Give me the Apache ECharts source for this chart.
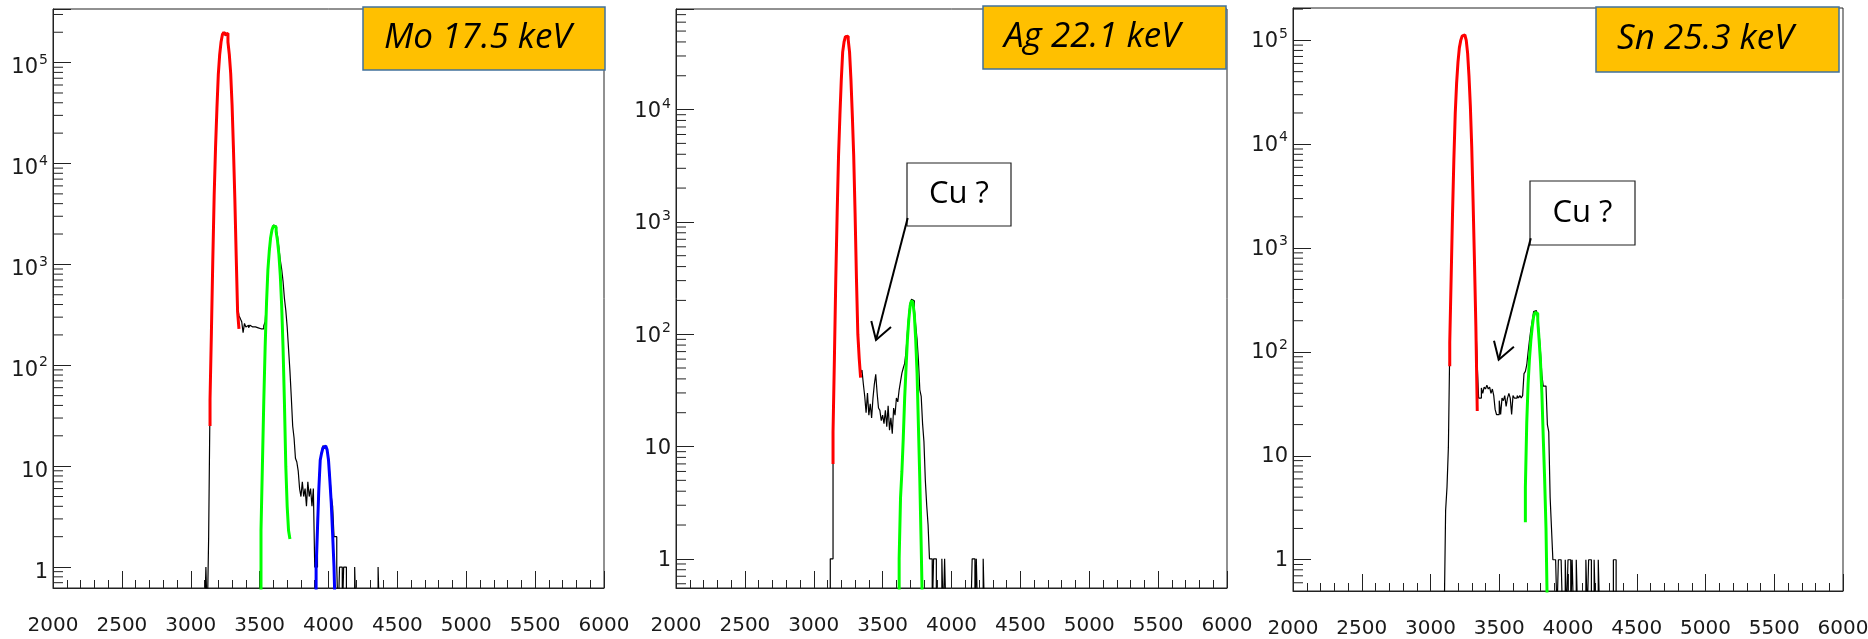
<!DOCTYPE html>
<html>
<head>
<meta charset="utf-8">
<title>Spectra</title>
<script src="https://cdn.jsdelivr.net/npm/echarts@6/dist/echarts.min.js"></script>
<style>
  html, body { margin: 0; padding: 0; background: #fff; }
  #chart { width: 1868px; height: 639px; }
</style>
</head>
<body>
<div id="chart"></div>
<script>
// channel width of every histogram
var BIN = 10;

var titles = ['Mo 17.5 keV', 'Ag 22.1 keV', 'Sn 25.3 keV'];
var noteText = 'Cu ?';
var xTicks = [2000, 2500, 3000, 3500, 4000, 4500, 5000, 5500, 6000];

// ---- Mo 17.5 keV ----
var moRawStart = 3100;
var moRaw = [
  0, 1, 0, 2, 45, 220, 1100, 4700, 14000, 36000,
  74000, 125000, 155000, 195000, 200000, 185000, 190000, 165000, 115000, 80000,
  37000, 15000, 4300, 1250, 380, 310, 290, 270, 210, 260,
  240, 250, 235, 250, 240, 235, 240, 230, 235, 230,
  230, 235, 230, 245, 270, 440, 930, 1400, 1900, 2250,
  2450, 2400, 2250, 1900, 1450, 1100, 900, 680, 460, 350,
  240, 145, 88, 48, 25, 19, 12, 11, 9, 6,
  5, 7, 5, 6, 4, 7, 5, 6, 4, 6,
  1, 1, 3, 7, 11, 14, 16, 15, 16, 14,
  12, 8, 5, 4, 2, 2, 1, 0, 1, 1,
  0, 1, 1, 0, 0, 0, 0, 0, 0, 1,
  0, 0, 0, 0, 0, 0, 0, 0, 0, 0,
  0, 0, 0, 0, 0, 0, 1, 0
];
var moRedStart = 3140;
var moRed = [46, 213, 1100, 4800, 14500, 35000, 76000, 120000, 160000, 190000, 200000,
  190000, 195000, 160000, 120000, 78000, 38000, 14000, 4500, 1200, 340];
var moRedEnds = [25, 230];
var moGreenStart = 3510;
var moGreen = [2.3, 10, 43, 150, 410, 880, 1350, 1850, 2200, 2400, 2350,
  2100, 1700, 1250, 780, 390, 150, 43, 10, 4, 2.3];
var moGreenEnds = [0, 1.9];
var moBlueStart = 3910;
var moBlue = [1, 2.4, 6, 11.5, 13.5, 15.3, 15.8, 15.8, 14.5, 11.5, 7.2, 4.3, 2.1, 1];
var moBlueEnds = [0, 0];

// ---- Ag 22.1 keV ----
var agRawStart = 3100;
var agRaw = [
  0, 0, 1, 1, 13, 62, 300, 1250, 3800, 9500,
  18000, 33000, 39000, 45000, 44000, 43000, 31000, 19000, 9500, 3700,
  1250, 300, 110, 62, 45, 48, 36, 28, 20, 30,
  19, 24, 18, 27, 36, 44, 30, 22, 21, 17,
  19, 16, 21, 15, 23, 14, 18, 13, 22, 19,
  27, 25, 32, 38, 45, 50, 55, 70, 105, 150,
  190, 205, 198, 170, 120, 90, 58, 32, 28, 16,
  11, 5, 3, 2, 1, 1, 0, 1, 1, 0,
  0, 0, 0, 1, 0, 1, 0, 0, 0, 0,
  0, 0, 0, 0, 0, 0, 0, 0, 0, 0,
  0, 0, 0, 0, 0, 1, 1, 0, 1, 0,
  0, 0, 0, 1, 0
];
var agRedStart = 3140;
var agRed = [13.5, 61, 313, 1200, 3900, 8900, 18500, 32500, 40000, 44600,
  45000, 42000, 32500, 18500, 8900, 3900, 1200, 313, 100, 61];
var agRedEnds = [7, 41];
var agGreenStart = 3620;
var agGreen = [1, 3.5, 6, 12, 27, 50, 90, 135, 180, 200, 190, 150, 90, 45, 15, 5, 1.3];
var agGreenEnds = [0, 0];

// ---- Sn 25.3 keV ----
var snRawStart = 3100;
var snRaw = [
  0, 3, 5, 12, 110, 520, 2000, 7500, 19000, 41000,
  60000, 88000, 98000, 112000, 110000, 113000, 96000, 78000, 43000, 24000,
  8800, 2900, 700, 185, 75, 36, 36, 45, 40, 46,
  44, 48, 44, 46, 40, 44, 38, 28, 25, 25,
  34, 25, 36, 34, 38, 30, 36, 40, 36, 25,
  38, 36, 36, 38, 36, 38, 36, 38, 62, 65,
  75, 100, 130, 165, 200, 245, 250, 245, 210, 150,
  100, 60, 47, 47, 47, 20, 17, 4, 2, 1,
  1, 1, 0, 1, 1, 1, 0, 0, 1, 0,
  1, 1, 0, 1, 0, 0, 1, 0, 0, 0,
  0, 0, 0, 1, 0, 1, 1, 0, 0, 1,
  0, 0, 1, 0, 0, 0, 0, 0, 0, 0,
  0, 0, 0, 1, 1, 0
];
var snRedStart = 3140;
var snRed = [124, 505, 2100, 7200, 20000, 39000, 62000, 85000, 100000, 110000,
  113000, 110000, 100000, 75000, 45000, 23000, 9300, 2700, 720, 175];
var snRedEnds = [73, 27];
var snGreenStart = 3690;
var snGreen = [5, 21, 50, 87, 130, 175, 220, 240, 235, 200, 130, 80, 40, 15, 6, 2];
var snGreenEnds = [2.3, 0];

var FONT = '"DejaVu Sans", sans-serif';
var ZERO = 0.3; // empty bins sit below the axis floor and get clipped

function lift(v) { return v > 0 ? v : ZERO; }

// histogram points for step:'end' (value at low edge of each bin)
function stepData(x0, vals, ends) {
  var pts = [];
  if (ends) pts.push([x0, lift(ends[0])]);
  vals.forEach(function (v, i) { pts.push([x0 + i * BIN, lift(v)]); });
  var xe = x0 + vals.length * BIN;
  pts.push([xe, lift(vals[vals.length - 1])]);
  if (ends) pts.push([xe, lift(ends[1])]);
  return pts;
}

function decadeLabel(v) {
  var l = Math.log(v) / Math.LN10;
  var e = Math.round(l);
  if (Math.abs(l - e) > 1e-6) return '';
  if (e === 0) return '1';
  if (e === 1) return '10';
  return '10{e|' + e + '}';
}

// 2..9 x 10^k minor ticks for the log axis
function minorTicks(min, max) {
  var out = [];
  for (var e = -1; e <= 6; e++) {
    for (var m = 2; m <= 9; m++) {
      var v = m * Math.pow(10, e);
      if (v > min && v < max) out.push([2000, v]);
    }
  }
  return out;
}

var panels = [
  { grid: { left: 53, top: 9, width: 551, height: 579 }, yMin: 0.62, yMax: 3.4e5, labelDrop: 10,
    raw: stepData(moRawStart, moRaw),
    fits: [[stepData(moRedStart, moRed, moRedEnds), '#ff0000'],
           [stepData(moGreenStart, moGreen, moGreenEnds), '#00ff00'],
           [stepData(moBlueStart, moBlue, moBlueEnds), '#0000ff']] },
  { grid: { left: 676, top: 9, width: 551, height: 579 }, yMin: 0.55, yMax: 7.86e4, labelDrop: 4,
    raw: stepData(agRawStart, agRaw),
    fits: [[stepData(agRedStart, agRed, agRedEnds), '#ff0000'],
           [stepData(agGreenStart, agGreen, agGreenEnds), '#00ff00']] },
  { grid: { left: 1293, top: 8, width: 550, height: 583 }, yMin: 0.5, yMax: 2.05e5, labelDrop: 2,
    raw: stepData(snRawStart, snRaw),
    fits: [[stepData(snRedStart, snRed, snRedEnds), '#ff0000'],
           [stepData(snGreenStart, snGreen, snGreenEnds), '#00ff00']] }
];

var grids = [], xAxes = [], yAxes = [], series = [];

panels.forEach(function (p, i) {
  grids.push(Object.assign({
    show: true, borderColor: '#222', borderWidth: 1, backgroundColor: '#fff',
    containLabel: false, outerBoundsMode: 'none'
  }, p.grid));

  xAxes.push({
    gridIndex: i, type: 'value', min: xTicks[0], max: xTicks[xTicks.length - 1],
    interval: xTicks[1] - xTicks[0],
    axisLine: { lineStyle: { color: '#222', width: 1 } },
    axisTick: { inside: true, length: 17, lineStyle: { color: '#222' } },
    minorTick: { show: true, splitNumber: 5, length: 8, lineStyle: { color: '#222' } },
    splitLine: { show: false },
    axisLabel: {
      margin: 28, fontFamily: FONT, fontSize: 20, color: '#1a1a1a',
      formatter: function (v) { return String(v); }
    }
  });

  yAxes.push({
    gridIndex: i, type: 'log', logBase: 10, min: p.yMin, max: p.yMax,
    axisLine: { lineStyle: { color: '#222', width: 1 } },
    axisTick: { inside: true, length: 18, lineStyle: { color: '#222' } },
    splitLine: { show: false },
    axisLabel: {
      margin: 5, fontFamily: FONT, fontSize: 21, color: '#1a1a1a',
      padding: [p.labelDrop, 0, 0, 0],
      formatter: decadeLabel,
      rich: { e: { fontFamily: FONT, fontSize: 14, color: '#1a1a1a', padding: [0, 0, 15, 1] } }
    }
  });

  series.push({
    type: 'custom', xAxisIndex: i, yAxisIndex: i, silent: true, clip: false, z: 3,
    data: minorTicks(p.yMin, p.yMax),
    renderItem: function (params, api) {
      var pt = api.coord([api.value(0), api.value(1)]);
      return {
        type: 'line',
        shape: { x1: pt[0], y1: pt[1], x2: pt[0] + 10, y2: pt[1] },
        style: { stroke: '#222', lineWidth: 1 }
      };
    }
  });

  series.push({
    type: 'line', xAxisIndex: i, yAxisIndex: i, step: 'end', data: p.raw,
    symbol: 'none', clip: true, z: 4,
    lineStyle: { color: '#000', width: 1.2 }
  });

  p.fits.forEach(function (f) {
    series.push({
      type: 'line', xAxisIndex: i, yAxisIndex: i, step: 'end', data: f[0],
      symbol: 'none', clip: true, z: 5,
      lineStyle: { color: f[1], width: 3 }
    });
  });
});

// slide annotations laid over the plots
var boxFill = '#ffc000', boxEdge = '#41719c';
var titleBoxes = [
  { x: 363, y: 7, w: 242, h: 63, tx: 384 },
  { x: 983, y: 6, w: 243, h: 63, tx: 1004 },
  { x: 1596, y: 7, w: 243, h: 65, tx: 1617 }
];
var graphic = [];
titleBoxes.forEach(function (b, i) {
  graphic.push({
    type: 'rect', z: 100, shape: { x: b.x, y: b.y, width: b.w, height: b.h },
    style: { fill: boxFill, stroke: boxEdge, lineWidth: 1.5 }
  });
  graphic.push({
    type: 'text', z: 101, x: b.tx, y: b.y + b.h / 2,
    style: { text: titles[i], font: 'italic 35px "Open Sans", Lato, sans-serif', fill: '#000',
      textAlign: 'left', textVerticalAlign: 'middle', align: 'left', verticalAlign: 'middle' }
  });
});

var notes = [
  { x: 907, y: 163, w: 104, h: 63, from: [907.7, 218], tip: [876, 340], armA: [871.3, 321], armB: [891, 327] },
  { x: 1530, y: 181, w: 105, h: 64, from: [1530.8, 238.3], tip: [1498.7, 359.8], armA: [1494, 340.8], armB: [1513.9, 346.7] }
];
notes.forEach(function (n) {
  graphic.push({
    type: 'rect', z: 100, shape: { x: n.x, y: n.y, width: n.w, height: n.h },
    style: { fill: '#fff', stroke: '#222', lineWidth: 1.2 }
  });
  graphic.push({
    type: 'text', z: 101, x: n.x + n.w / 2, y: n.y + n.h / 2,
    style: { text: noteText, font: '31px "Open Sans", Lato, sans-serif', fill: '#000',
      textAlign: 'center', textVerticalAlign: 'middle', align: 'center', verticalAlign: 'middle' }
  });
  graphic.push({
    type: 'line', z: 101,
    shape: { x1: n.from[0], y1: n.from[1], x2: n.tip[0], y2: n.tip[1] },
    style: { stroke: '#000', lineWidth: 2 }
  });
  graphic.push({
    type: 'polyline', z: 101,
    shape: { points: [n.armA, n.tip, n.armB] },
    style: { stroke: '#000', lineWidth: 2, fill: null }
  });
});

var myChart = echarts.init(document.getElementById('chart'));
var option = {
  animation: false,
  backgroundColor: '#fff',
  grid: grids,
  xAxis: xAxes,
  yAxis: yAxes,
  series: series,
  graphic: graphic
};
myChart.setOption(option);
</script>
</body>
</html>
